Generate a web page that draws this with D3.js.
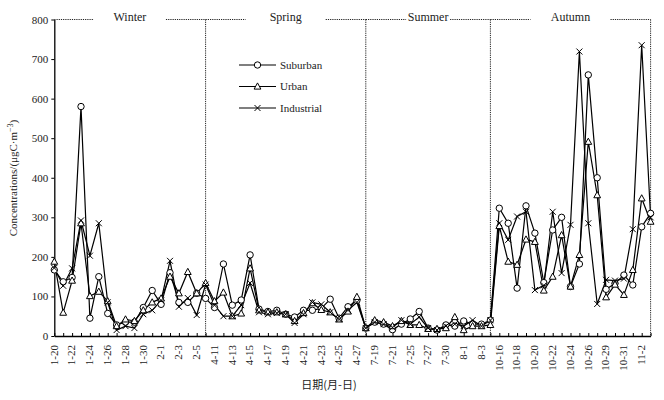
<!DOCTYPE html>
<html><head><meta charset="utf-8">
<script src="https://cdn.jsdelivr.net/npm/d3@7"></script>
<style>body{margin:0;background:#fff}svg{display:block}text{font-family:"Liberation Serif","Times New Roman",serif;fill:#222}</style>
</head><body>
<svg id="c" width="664" height="400"></svg>
<script>
const dates = ["1-20","1-21","1-22","1-23","1-24","1-25","1-26","1-27","1-28","1-29","1-30","1-31","2-1","2-2","2-3","2-4","2-5","2-6",
"4-11","4-12","4-13","4-14","4-15","4-16","4-17","4-18","4-19","4-20","4-21","4-22","4-23","4-24","4-25","4-26","4-27","4-28",
"7-19","7-20","7-21","7-24","7-25","7-26","7-27","7-28","7-30","7-31","8-1","8-2","8-3","8-4",
"10-16","10-17","10-18","10-19","10-20","10-21","10-22","10-23","10-24","10-25","10-26","10-27","10-29","10-30","10-31","11-1","11-2","11-3"];
const tickLabels = ["1-20","1-22","1-24","1-26","1-28","1-30","2-1","2-3","2-5","4-11","4-13","4-15","4-17","4-19","4-21","4-23","4-25","4-27",
"7-19","7-21","7-25","7-27","7-30","8-1","8-3","10-16","10-18","10-20","10-22","10-24","10-26","10-29","10-31","11-2"];
const suburban = [167,137,148,580,45,150,57,28,35,35,72,115,80,160,85,85,108,95,
72,182,78,91,205,68,62,65,55,48,65,65,70,93,45,74,90,20,
35,30,16,30,43,62,20,15,28,25,38,30,30,40,
323,285,121,329,260,135,268,300,125,182,660,400,118,133,154,129,276,310];
const urban = [188,59,140,285,101,112,88,25,42,38,65,85,95,150,108,162,108,134,
88,110,50,57,171,65,60,60,55,38,58,83,66,60,42,62,99,20,
40,35,25,38,28,28,18,18,20,48,15,25,25,28,
278,188,180,244,238,115,150,255,125,205,491,356,98,130,104,167,348,289];
const industrial = [172,127,171,292,203,285,85,15,25,20,55,65,90,190,74,96,53,130,
78,50,50,78,134,60,55,58,55,33,55,85,80,60,42,65,85,20,
35,30,22,40,30,48,20,15,25,30,25,40,25,40,
285,243,302,314,116,128,314,159,281,719,285,81,142,140,145,270,735,300];
const seriesNames = ["Suburban","Urban","Industrial"];
const seasons = ["Winter","Spring","Summer","Autumn"];
const seasonEnds = ["2-6","4-28","8-4","11-3"];
const yTicks = [0,100,200,300,400,500,600,700,800];

const svg = d3.select("#c");
const x = d3.scalePoint().domain(dates).range([54.3, 650.6]);
const y = d3.scaleLinear().domain([0,800]).range([336, 19.5]);

// season frames
const gapHalf = [36, 40, 22, 40];
let prev = x(dates[0]);
seasons.forEach((s,i)=>{
  const xe = x(seasonEnds[i]);
  const cx = (prev + xe)/2;
  const dash = "1.2,1";
  svg.append("line").attr("x1",prev).attr("x2",cx-gapHalf[i]).attr("y1",y(800)).attr("y2",y(800))
    .attr("stroke","#222").attr("stroke-dasharray",dash);
  svg.append("line").attr("x1",cx+gapHalf[i]).attr("x2",xe).attr("y1",y(800)).attr("y2",y(800))
    .attr("stroke","#222").attr("stroke-dasharray",dash);
  svg.append("line").attr("x1",xe).attr("x2",xe).attr("y1",y(800)).attr("y2",y(0))
    .attr("stroke","#222").attr("stroke-dasharray",dash);
  svg.append("text").attr("x",cx).attr("y",y(800)+1.5).attr("text-anchor","middle").attr("font-size",12).text(s);
  prev = xe;
});

// axes
const ya = svg.append("g").attr("transform",`translate(${x(dates[0])},0)`)
  .call(d3.axisLeft(y).tickValues(yTicks).tickSize(3).tickSizeOuter(0).tickPadding(3));
ya.select(".domain").attr("stroke","#000").attr("stroke-width",1.3);
ya.selectAll("text").attr("font-size",11).attr("font-family","Liberation Serif").attr("fill","#222");

const xa = svg.append("g").attr("transform",`translate(0,${y(0)})`)
  .call(d3.axisBottom(x).tickValues(dates).tickSize(-3).tickSizeOuter(0).tickFormat(d=>tickLabels.includes(d)?d:""));
xa.select(".domain").attr("stroke","#000").attr("stroke-width",1.3);
xa.selectAll(".tick line").attr("stroke","#000");
xa.selectAll("text").attr("font-size",11).attr("font-family","Liberation Serif").attr("fill","#222")
  .attr("transform","rotate(-90)").attr("text-anchor","end").attr("x",-9).attr("y",-1).attr("dy","0.35em");

// axis titles
svg.append("text").attr("x",329).attr("y",389).attr("text-anchor","middle").attr("font-size",11)
  .style("font-family","'Noto Sans CJK SC'").text("日期(月-日)");
const yt = svg.append("text").attr("transform","translate(17,178) rotate(-90)").attr("text-anchor","middle").attr("font-size",11);
yt.append("tspan").text("Concentrations/(μgC·m");
yt.append("tspan").attr("baseline-shift","super").attr("font-size",8).text("−3");
yt.append("tspan").text(")");

// series
const data = [suburban, urban, industrial];
const line = d3.line().x((d,i)=>x(dates[i])).y(d=>y(d));
data.forEach(arr=>{
  svg.append("path").datum(arr).attr("d",line).attr("fill","none").attr("stroke","#000").attr("stroke-width",1.2);
});
function marker(g, k, cx, cy){
  if(k===0) g.append("circle").attr("cx",cx).attr("cy",cy).attr("r",3.2).attr("fill","#fff").attr("stroke","#000").attr("stroke-width",1);
  else if(k===1) g.append("path").attr("d",`M${cx},${cy-3.6}L${cx+3.4},${cy+2.6}L${cx-3.4},${cy+2.6}Z`).attr("fill","#fff").attr("stroke","#000").attr("stroke-width",1);
  else g.append("path").attr("d",`M${cx-3},${cy-3}L${cx+3},${cy+3}M${cx-3},${cy+3}L${cx+3},${cy-3}`).attr("stroke","#000").attr("stroke-width",1);
}
data.forEach((arr,k)=>{
  const g = svg.append("g");
  arr.forEach((v,i)=>marker(g,k,x(dates[i]),y(v)));
});

// legend
const lg = svg.append("g");
seriesNames.forEach((n,k)=>{
  const ly = 65 + k*21.5;
  lg.append("line").attr("x1",239).attr("x2",276).attr("y1",ly).attr("y2",ly).attr("stroke","#000").attr("stroke-width",1.2);
  marker(lg,k,257.5,ly);
  lg.append("text").attr("x",280).attr("y",ly).attr("dy","0.35em").attr("font-size",11).text(n);
});
</script>
</body></html>
